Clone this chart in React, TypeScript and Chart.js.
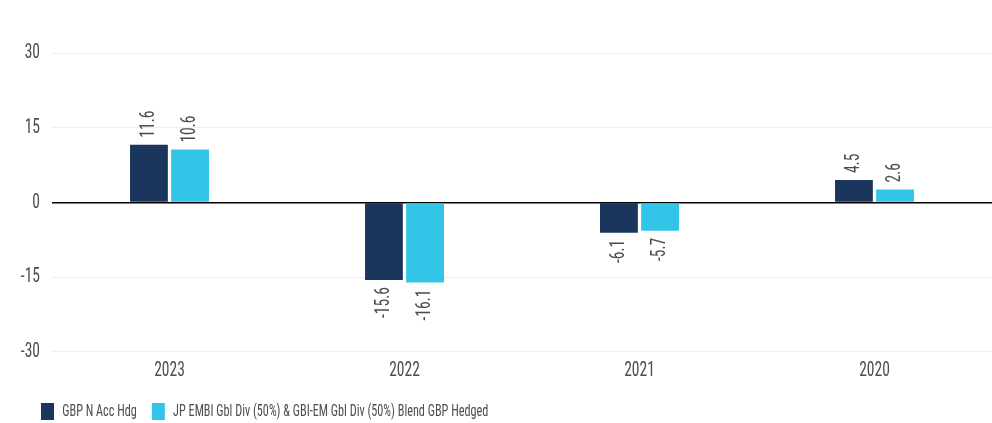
import React, { useEffect, useRef } from "react";
import { Chart, registerables } from "chart.js";

Chart.register(...registerables);

const categories = ["2023", "2022", "2021", "2020"];
const fundLabel = "GBP N Acc Hdg";
const benchLabel = "JP EMBI Gbl Div (50%) & GBI-EM Gbl Div (50%) Blend GBP Hedged";
const fundValues = [11.6, -15.6, -6.1, 4.5];
const benchValues = [10.6, -16.1, -5.7, 2.6];
const yTicks = [-30, -15, 0, 15, 30];

const FONT = "'Roboto Condensed', 'Liberation Sans', sans-serif";
const SX = 0.74; // horizontal squeeze to mimic the reference's extra-condensed face
const TEXT = "#4d4d4d";

function condense(ctx: CanvasRenderingContext2D) {
  const anyCtx = ctx as any;
  if (anyCtx.__condensed) return;
  anyCtx.__condensed = true;
  const origFill = ctx.fillText.bind(ctx);
  const origMeasure = ctx.measureText.bind(ctx);
  anyCtx.measureText = (t: string) => {
    const m = origMeasure(t);
    return {
      width: m.width * SX,
      actualBoundingBoxAscent: m.actualBoundingBoxAscent,
      actualBoundingBoxDescent: m.actualBoundingBoxDescent,
      actualBoundingBoxLeft: m.actualBoundingBoxLeft * SX,
      actualBoundingBoxRight: m.actualBoundingBoxRight * SX,
    };
  };
  anyCtx.fillText = (t: string, x: number, y: number, mw?: number) => {
    ctx.save();
    ctx.translate(x, y);
    ctx.scale(SX, 1);
    if (mw !== undefined) origFill(t, 0, 0, mw / SX);
    else origFill(t, 0, 0);
    ctx.restore();
  };
}

const valueLabels = {
  id: "valueLabels",
  afterLayout(chart: any) {
    if (chart.legend) {
      chart.legend.left = 26;
      chart.legend.top = 388;
    }
  },
  afterDatasetsDraw(chart: any) {
    const ctx = chart.ctx;
    ctx.save();
    ctx.font = `21px ${FONT}`;
    ctx.fillStyle = TEXT;
    ctx.textBaseline = "middle";
    chart.data.datasets.forEach((ds: any, di: number) => {
      const meta = chart.getDatasetMeta(di);
      meta.data.forEach((bar: any, i: number) => {
        const v = ds.data[i];
        const txt = v.toFixed(1);
        ctx.save();
        if (v >= 0) {
          ctx.translate(bar.x, Math.min(bar.y, bar.base) - 7);
          ctx.rotate(-Math.PI / 2);
          ctx.textAlign = "left";
        } else {
          ctx.translate(bar.x, Math.max(bar.y, bar.base) + 7);
          ctx.rotate(-Math.PI / 2);
          ctx.textAlign = "right";
        }
        ctx.fillText(txt, 0, 0);
        ctx.restore();
      });
    });
    ctx.restore();
  },
};

export default function App() {
  const ref = useRef<HTMLCanvasElement>(null);
  useEffect(() => {
    document.body.style.margin = "0";
    const ctx = ref.current!.getContext("2d")!;
    condense(ctx);
    const chart = new Chart(ctx, {
      type: "bar",
      data: {
        labels: categories,
        datasets: [
          {
            label: fundLabel,
            data: fundValues,
            backgroundColor: "#1b365d",
            categoryPercentage: 0.35,
            barPercentage: 0.92,
          },
          {
            label: benchLabel,
            data: benchValues,
            backgroundColor: "#33c5e8",
            categoryPercentage: 0.35,
            barPercentage: 0.92,
          },
        ],
      },
      options: {
        animation: false,
        responsive: true,
        maintainAspectRatio: false,
        layout: { padding: { top: 53, left: 0, right: 0, bottom: 0 } },
        plugins: {
          tooltip: { enabled: false },
          legend: {
            position: "bottom",
            align: "start",
            maxHeight: 42,
            labels: {
              boxWidth: 13,
              boxHeight: 17,
              padding: 15,
              color: TEXT,
              font: { family: FONT, size: 16.5 },
            },
          },
        },
        scales: {
          x: {
            grid: { display: false },
            border: { display: false },
            ticks: {
              color: TEXT,
              padding: -2,
              font: { family: FONT, size: 21 },
            },
          },
          y: {
            min: -30,
            max: 30,
            afterFit(scale: any) {
              scale.width = 52;
            },
            afterBuildTicks(scale: any) {
              scale.ticks = yTicks.map((v) => ({ value: v }));
            },
            border: { display: false },
            grid: {
              drawTicks: false,
              color: (c: any) => (c.tick && c.tick.value === 0 ? "#000000" : "#eeeeee"),
              lineWidth: (c: any) => (c.tick && c.tick.value === 0 ? 1.5 : 1),
            },
            ticks: {
              color: TEXT,
              padding: 12,
              font: { family: FONT, size: 21 },
            },
          },
        },
      },
      plugins: [valueLabels],
    } as any);
    return () => chart.destroy();
  }, []);
  return (
    <div style={{ position: "relative", width: 992, height: 423 }}>
      <canvas ref={ref} />
    </div>
  );
}
